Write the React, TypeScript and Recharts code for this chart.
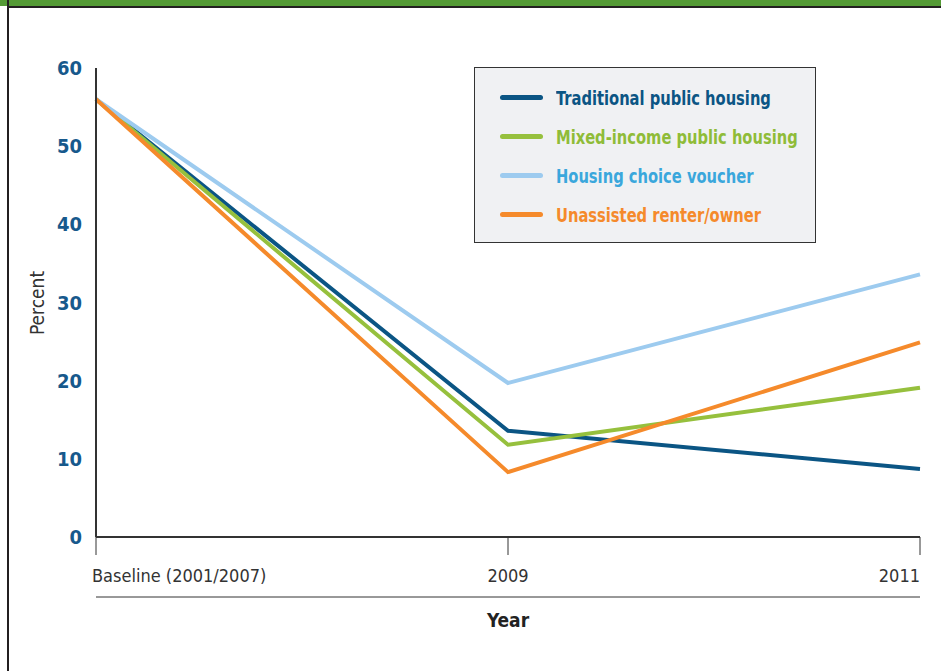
import React from 'react';
import { LineChart, Line, XAxis, YAxis } from 'recharts';

const years = ['Baseline (2001/2007)', '2009', '2011'];
const traditional = [56, 13.6, 8.7];
const mixedIncome = [56, 11.8, 19.1];
const voucher = [56, 19.7, 33.6];
const unassisted = [56, 8.3, 24.9];
const yTicks = [0, 10, 20, 30, 40, 50, 60];

const series = [
  { key: 'traditional', name: 'Traditional public housing', color: '#0b5584', text: '#0b5584' },
  { key: 'mixed', name: 'Mixed-income public housing', color: '#96c03d', text: '#8fbc38' },
  { key: 'voucher', name: 'Housing choice voucher', color: '#9dcbef', text: '#3aa7dc' },
  { key: 'unassisted', name: 'Unassisted renter/owner', color: '#f58a2b', text: '#f58a2b' },
];

const data = years.map((year, i) => ({
  year,
  traditional: traditional[i],
  mixed: mixedIncome[i],
  voucher: voucher[i],
  unassisted: unassisted[i],
}));

const FONT = '"DejaVu Sans Condensed", "Roboto", sans-serif';

// recharts hands the tick a y already pushed down by tickSize + tickMargin (8px)
const XTick = ({ x, y, payload, index }: any) => {
  const anchor = index === 0 ? 'start' : index === years.length - 1 ? 'end' : 'middle';
  const dx = index === 0 ? -4 : 0;
  return (
    <g>
      <line x1={x} y1={y - 8} x2={x} y2={y + 10} stroke="#333" strokeWidth={1} />
      <text x={x + dx} y={y + 37} textAnchor={anchor} fontSize={18} fill="#333" fontFamily={FONT}>
        {payload.value}
      </text>
    </g>
  );
};

const YearLabel = ({ viewBox }: any) => {
  const { x, y, width } = viewBox;
  return (
    <g>
      <line x1={x} y1={y + 60} x2={x + width} y2={y + 60} stroke="#333" strokeWidth={1} />
      <text x={x + width / 2} y={y + 90} textAnchor="middle" fontSize={19} fontWeight={700} fill="#222" fontFamily={FONT}>
        Year
      </text>
    </g>
  );
};

const LegendBox = () => (
  <div
    style={{
      position: 'absolute',
      left: 474,
      top: 67,
      width: 342,
      height: 176,
      background: '#f0f1f3',
      border: '1px solid #333',
      boxSizing: 'border-box',
      paddingTop: 10,
      paddingLeft: 25,
    }}
  >
    {series.map((s) => (
      <div key={s.key} style={{ display: 'flex', alignItems: 'center', height: 39 }}>
        <div style={{ flexShrink: 0, width: 43, height: 5, borderRadius: 3, background: s.color }} />
        <span
          style={{
            display: 'inline-block',
            marginLeft: 13,
            color: s.text,
            fontSize: 19,
            fontWeight: 700,
            fontFamily: FONT,
            whiteSpace: 'nowrap',
            transform: 'scaleX(0.86)',
            transformOrigin: 'left center',
          }}
        >
          {s.name}
        </span>
      </div>
    ))}
  </div>
);

export default function App() {
  return (
    <div style={{ position: 'fixed', left: 0, top: 0, width: 941, height: 671, background: '#fff', overflow: 'hidden' }}>
      <div style={{ position: 'absolute', left: 0, top: 0, width: 941, height: 6, background: '#549a35' }} />
      <div style={{ position: 'absolute', left: 9, top: 6, width: 932, height: 2, background: '#231f20' }} />
      <div style={{ position: 'absolute', left: 7, top: 0, width: 2, height: 671, background: '#231f20' }} />
      <div
        style={{
          position: 'absolute',
          left: 37,
          top: 303,
          transform: 'translate(-50%, -50%) rotate(-90deg)',
          fontFamily: FONT,
          fontSize: 19,
          color: '#333',
          whiteSpace: 'nowrap',
        }}
      >
        Percent
      </div>
      <div style={{ position: 'absolute', left: 0, top: 0 }}>
        <LineChart width={941} height={671} data={data} margin={{ top: 68, right: 21, left: 0, bottom: 0 }}>
          <XAxis
            dataKey="year"
            height={134}
            axisLine={{ stroke: '#333', strokeWidth: 2 }}
            tickLine={false}
            tick={<XTick />}
            interval={0}
            label={<YearLabel />}
          />
          <YAxis
            width={96}
            domain={[0, 60]}
            ticks={yTicks}
            tickSize={0}
            tickMargin={14}
            axisLine={{ stroke: '#333', strokeWidth: 2 }}
            tickLine={false}
            tick={{ fill: '#17598c', fontSize: 20, fontWeight: 700, fontFamily: FONT }}
          />
          {series.map((s) => (
            <Line
              key={s.key}
              type="linear"
              dataKey={s.key}
              name={s.name}
              stroke={s.color}
              strokeWidth={4}
              dot={false}
              activeDot={false}
              isAnimationActive={false}
            />
          ))}
        </LineChart>
      </div>
      <LegendBox />
    </div>
  );
}
